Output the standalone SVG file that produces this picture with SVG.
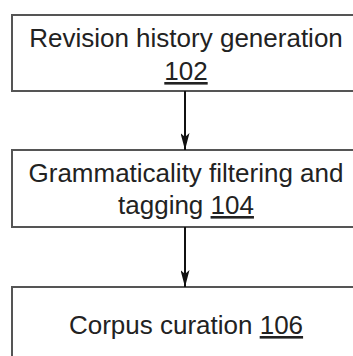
<svg xmlns="http://www.w3.org/2000/svg" width="353" height="356" viewBox="0 0 353 356">
  <defs>
    <marker id="arrow" markerWidth="17" markerHeight="9" refX="17" refY="4.5" orient="auto" markerUnits="userSpaceOnUse" viewBox="0 0 17 9">
      <path d="M0,0 L17,4.5 L0,9 L4,4.5 Z" fill="#111"/>
    </marker>
    <style>
      .box { fill: #fff; stroke: #555; stroke-width: 2; }
      .label { font-family: "Liberation Sans", Arial, sans-serif; font-size: 26px; fill: #222; text-anchor: middle; }
      .ref { text-decoration: underline; }
      .edge { stroke: #111; stroke-width: 2; fill: none; marker-end: url(#arrow); }
    </style>
  </defs>
  <rect width="353" height="356" fill="#fff"/>

  <g id="node-102">
    <rect class="box" x="12" y="15" width="360" height="76"/>
    <text class="label" x="186" y="47">Revision history generation</text>
    <text class="label ref" x="186" y="80">102</text>
  </g>

  <g id="node-104">
    <rect class="box" x="12" y="150" width="360" height="77"/>
    <text class="label" x="186" y="182">Grammaticality filtering and</text>
    <text class="label" x="186" y="214">tagging <tspan class="ref">104</tspan></text>
  </g>

  <g id="node-106">
    <rect class="box" x="12" y="287" width="360" height="90"/>
    <text class="label" x="186" y="334">Corpus curation <tspan class="ref">106</tspan></text>
  </g>

  <g id="connectors">
    <path class="edge" d="M185,91 L185,150"/>
    <path class="edge" d="M185,227 L185,287"/>
  </g>
</svg>
